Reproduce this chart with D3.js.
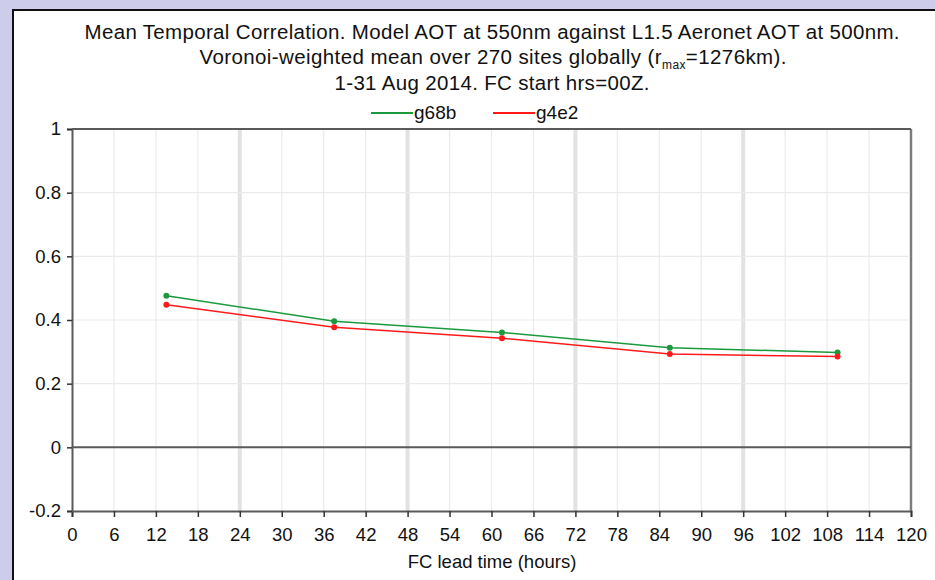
<!DOCTYPE html>
<html>
<head>
<meta charset="utf-8">
<script src="https://cdn.jsdelivr.net/npm/d3@7"></script>
<style>
  html, body { margin: 0; padding: 0; background: #cdcdeb; }
  svg { display: block; font-family: "Liberation Sans", Arial, sans-serif; }
</style>
</head>
<body>
<script>
const leadHours = [13.5, 37.5, 61.5, 85.5, 109.5];
const g68b = [0.476, 0.396, 0.361, 0.313, 0.298];
const g4e2 = [0.448, 0.377, 0.343, 0.293, 0.285];
const seriesNames = ["g68b", "g4e2"];
const seriesColors = ["#1a9a3c", "#ff1a1a"];
const xTicks = d3.range(0, 121, 6);
const yTicks = [-0.2, 0, 0.2, 0.4, 0.6, 0.8, 1];
const titleLines = [
  "Mean Temporal Correlation. Model AOT at 550nm against L1.5 Aeronet AOT  at 500nm.",
  "Voronoi-weighted mean over 270 sites globally (r",
  "1-31 Aug 2014. FC start hrs=00Z."
];

const width = 935, height = 580;
const svg = d3.select("body").append("svg").attr("width", width).attr("height", height);

// white panel, black border on left/top
svg.append("rect").attr("x", 13).attr("y", 10).attr("width", width).attr("height", height)
  .attr("fill", "white").attr("stroke", "#111").attr("stroke-width", 2);

const x = d3.scaleLinear().domain([0, 120]).range([72, 911]);
const y = d3.scaleLinear().domain([-0.2, 1]).range([511, 129]);

// grid
const grid = svg.append("g");
grid.selectAll("line.vx")
  .data(xTicks.filter(d => d > 0))
  .join("line")
  .attr("x1", d => x(d)).attr("x2", d => x(d))
  .attr("y1", y(1)).attr("y2", y(-0.2))
  .attr("stroke", d => d % 24 === 0 ? "#e2e2e2" : "#ebebeb")
  .attr("stroke-width", d => d % 24 === 0 ? 4 : 1.2);
grid.selectAll("line.hy")
  .data(yTicks.filter(d => d !== 0 && d !== 1 && d !== -0.2))
  .join("line")
  .attr("x1", x(0)).attr("x2", x(120))
  .attr("y1", d => y(d)).attr("y2", d => y(d))
  .attr("stroke", "#ebebeb").attr("stroke-width", 1.2);

// frame
const frameColor = "#5a5a5a";
svg.append("line").attr("x1", x(0)).attr("x2", x(120)).attr("y1", y(1)).attr("y2", y(1))
  .attr("stroke", frameColor).attr("stroke-width", 2);
svg.append("line").attr("x1", x(120)).attr("x2", x(120)).attr("y1", y(1)).attr("y2", y(-0.2))
  .attr("stroke", frameColor).attr("stroke-width", 1.5);
svg.append("line").attr("x1", x(0)).attr("x2", x(120)).attr("y1", y(0)).attr("y2", y(0))
  .attr("stroke", frameColor).attr("stroke-width", 2);

// axes
const xAxis = svg.append("g")
  .attr("transform", `translate(0,${y(-0.2)})`)
  .call(d3.axisBottom(x).tickValues(xTicks).tickSize(6).tickPadding(11).tickFormat(d3.format("d")));
const yAxis = svg.append("g")
  .attr("transform", `translate(${x(0)},0)`)
  .call(d3.axisLeft(y).tickValues(yTicks).tickSize(5).tickPadding(6).tickFormat(d => String(+d.toFixed(1))));
[xAxis, yAxis].forEach(g => {
  g.attr("font-family", null).attr("font-size", null);
  g.select(".domain").attr("stroke", frameColor).attr("stroke-width", 2);
  g.selectAll(".tick line").attr("stroke", "#333").attr("stroke-width", 1.5);
  g.selectAll(".tick text").attr("fill", "#111").style("font-size", "18.5px");
});

svg.append("text").attr("x", 492).attr("y", 568).attr("text-anchor", "middle")
  .attr("fill", "#111").style("font-size", "18.5px").text("FC lead time (hours)");

// title
const title = svg.append("g").attr("fill", "#111").style("font-size", "20.5px").attr("text-anchor", "middle");
title.append("text").attr("x", 492).attr("y", 39)
  .attr("textLength", 815).attr("lengthAdjust", "spacing").text(titleLines[0]);
const t2 = title.append("text").attr("x", 493).attr("y", 64)
  .attr("textLength", 587).attr("lengthAdjust", "spacing");
t2.append("tspan").text(titleLines[1]);
t2.append("tspan").attr("dy", 5).style("font-size", "12px").text("max");
t2.append("tspan").attr("dy", -5).text("=1276km).");
title.append("text").attr("x", 492).attr("y", 90)
  .attr("textLength", 315).attr("lengthAdjust", "spacing").text(titleLines[2]);

// series
const series = [g68b, g4e2];
const line = d3.line().x((d, i) => x(leadHours[i])).y(d => y(d));
series.forEach((vals, k) => {
  svg.append("path").datum(vals).attr("d", line)
    .attr("fill", "none").attr("stroke", seriesColors[k]).attr("stroke-width", 1.5);
  svg.append("g").selectAll("circle").data(vals).join("circle")
    .attr("cx", (d, i) => x(leadHours[i])).attr("cy", d => y(d)).attr("r", 3)
    .attr("fill", seriesColors[k]);
});

// legend
const legendX = [371, 493];
seriesNames.forEach((name, k) => {
  svg.append("line").attr("x1", legendX[k]).attr("x2", legendX[k] + 42)
    .attr("y1", 113).attr("y2", 113).attr("stroke", seriesColors[k]).attr("stroke-width", 2);
  svg.append("text").attr("x", legendX[k] + 43).attr("y", 119)
    .attr("fill", "#111").style("font-size", "19px").text(name);
});
</script>
</body>
</html>
